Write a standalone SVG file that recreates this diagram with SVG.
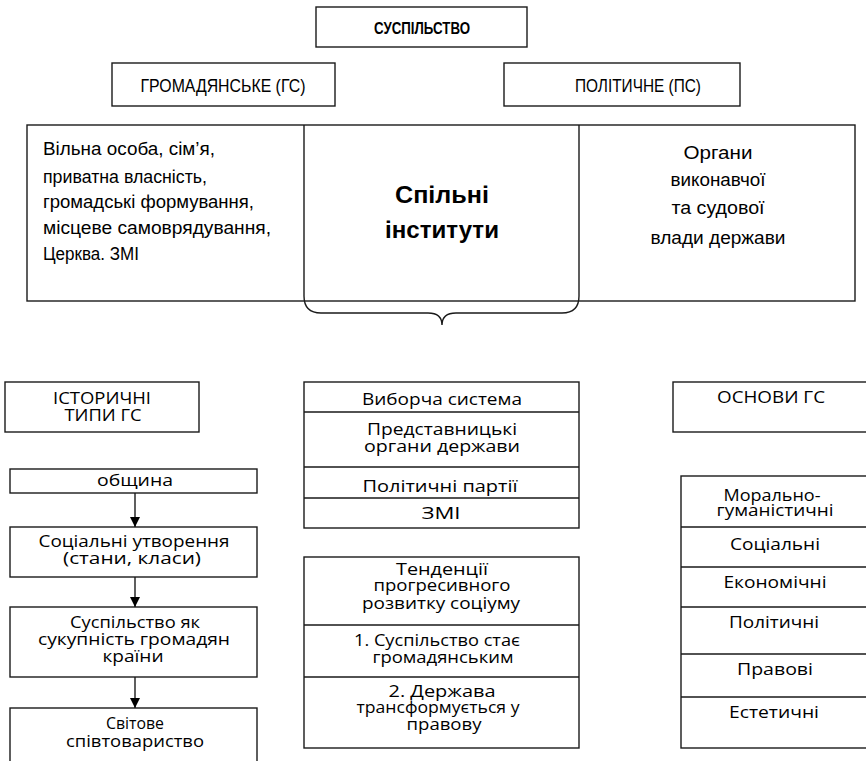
<svg xmlns="http://www.w3.org/2000/svg" width="866" height="761" viewBox="0 0 866 761">
<style>
.box{fill:#fff;stroke:#1a1a1a;stroke-width:1.4}
.ln{fill:none;stroke:#1a1a1a;stroke-width:1.4}
.t{font-family:"Liberation Sans",Arial,sans-serif;font-size:17.5px;fill:#000}
.tb{font-family:"Liberation Sans",Arial,sans-serif;font-weight:bold;fill:#000}
.s{font-family:"Open Sans","DejaVu Sans",sans-serif;font-size:16px;fill:#000;text-anchor:middle}
.c{text-anchor:middle}
</style>
<defs>
<marker id="ah" viewBox="0 0 10 10" refX="10" refY="5" markerWidth="10" markerHeight="10" markerUnits="userSpaceOnUse" orient="auto">
<path d="M0,0 L10,5 L0,10 Z" fill="#000"/>
</marker>
<clipPath id="c1"><rect x="304" y="382" width="276" height="30"/></clipPath>
<clipPath id="c2"><rect x="304" y="467" width="276" height="31"/></clipPath>
</defs>
<rect width="866" height="761" fill="#fff"/>

<g id="suspilstvo">
<rect class="box" x="316" y="7" width="211" height="40"/>
<text class="tb c" x="422" y="34" font-size="17" textLength="96" lengthAdjust="spacingAndGlyphs">СУСПІЛЬСТВО</text>
</g>
<g id="gs">
<rect class="box" x="112" y="63" width="223" height="43"/>
<text class="t c" x="223" y="92" textLength="165" lengthAdjust="spacingAndGlyphs">ГРОМАДЯНСЬКЕ (ГС)</text>
</g>
<g id="ps">
<rect class="box" x="504" y="63" width="236" height="43"/>
<text class="t c" x="638" y="92" textLength="126" lengthAdjust="spacingAndGlyphs">ПОЛІТИЧНЕ (ПС)</text>
</g>

<g id="row">
<rect class="box" x="27" y="125" width="828" height="176"/>
</g>
<g id="gs-items">
<text class="t" x="43" y="155" textLength="172" lengthAdjust="spacingAndGlyphs">Вільна особа, сім’я,</text>
<text class="t" x="43" y="183" textLength="164" lengthAdjust="spacingAndGlyphs">приватна власність,</text>
<text class="t" x="43" y="208" textLength="211" lengthAdjust="spacingAndGlyphs">громадські формування,</text>
<text class="t" x="43" y="234" textLength="228" lengthAdjust="spacingAndGlyphs">місцеве самоврядування,</text>
<text class="t" x="43" y="260" textLength="96" lengthAdjust="spacingAndGlyphs">Церква. ЗМІ</text>
</g>
<g id="spilni">
<path class="ln" d="M304,125 V296 Q304,313 321,313 H428 Q442,313 442,325 Q442,313 456,313 H562 Q579,313 579,296 V125"/>
<text class="tb c" x="442" y="203" font-size="24" textLength="94" lengthAdjust="spacingAndGlyphs">Спільні</text>
<text class="tb c" x="442" y="238" font-size="24" textLength="114" lengthAdjust="spacingAndGlyphs">інститути</text>
</g>
<g id="ps-items">
<text class="t c" x="718" y="159" textLength="69" lengthAdjust="spacingAndGlyphs">Органи</text>
<text class="t c" x="718" y="186" textLength="95" lengthAdjust="spacingAndGlyphs">виконавчої</text>
<text class="t c" x="718" y="214" textLength="93" lengthAdjust="spacingAndGlyphs">та судової</text>
<text class="t c" x="718" y="244" textLength="135" lengthAdjust="spacingAndGlyphs">влади держави</text>
</g>

<g id="istorychni">
<rect class="box" x="5" y="382" width="194" height="50"/>
<text class="s" x="102" y="404" textLength="98" lengthAdjust="spacingAndGlyphs">ІСТОРИЧНІ</text>
<text class="s" x="103" y="421" textLength="77" lengthAdjust="spacingAndGlyphs">ТИПИ ГС</text>
</g>
<g id="obshchyna">
<rect class="box" x="10" y="469" width="247" height="24"/>
<text class="s" x="135" y="486" textLength="76" lengthAdjust="spacingAndGlyphs">община</text>
</g>
<g id="sotsialni-utvorennia">
<rect class="box" x="10" y="527" width="247" height="50"/>
<text class="s" x="134" y="547" textLength="191" lengthAdjust="spacingAndGlyphs">Соціальні утворення</text>
<text class="s" x="132" y="564" textLength="138" lengthAdjust="spacingAndGlyphs">(стани, класи)</text>
</g>
<g id="suspilstvo-yak">
<rect class="box" x="10" y="607" width="247" height="70"/>
<text class="s" x="135" y="628" textLength="130" lengthAdjust="spacingAndGlyphs">Суспільство як</text>
<text class="s" x="134" y="645" textLength="192" lengthAdjust="spacingAndGlyphs">сукупність громадян</text>
<text class="s" x="133" y="662" textLength="61" lengthAdjust="spacingAndGlyphs">країни</text>
</g>
<g id="svitove">
<rect class="box" x="10" y="708" width="247" height="60"/>
<text class="s" x="135" y="729" font-size="17" textLength="58" lengthAdjust="spacingAndGlyphs">Світове</text>
<text class="s" x="135" y="747" font-size="17" textLength="138" lengthAdjust="spacingAndGlyphs">співтовариство</text>
</g>

<g id="institutions">
<rect class="box" x="304" y="382" width="275" height="146"/>
<text class="s" x="442" y="405" clip-path="url(#c1)" textLength="160" lengthAdjust="spacingAndGlyphs">Виборча система</text>
<text class="s" x="442" y="435" textLength="150" lengthAdjust="spacingAndGlyphs">Представницькі</text>
<text class="s" x="442" y="452" textLength="156" lengthAdjust="spacingAndGlyphs">органи держави</text>
<text class="s" x="440" y="492" clip-path="url(#c2)" textLength="155" lengthAdjust="spacingAndGlyphs">Політичні партії</text>
<text class="s" x="441" y="519" textLength="39" lengthAdjust="spacingAndGlyphs">ЗМІ</text>
<path class="ln" d="M304,412 H579 M304,467 H579 M304,498 H579"/>
</g>

<g id="tendentsii">
<rect class="box" x="304" y="557" width="275" height="191"/>
<path class="ln" d="M304,625 H579 M304,677 H579"/>
<text class="s" x="442" y="575" textLength="92" lengthAdjust="spacingAndGlyphs">Тенденції</text>
<text class="s" x="442" y="591" textLength="137" lengthAdjust="spacingAndGlyphs">прогресивного</text>
<text class="s" x="441" y="609" textLength="158" lengthAdjust="spacingAndGlyphs">розвитку соціуму</text>
<text class="s" x="437" y="646" textLength="166" lengthAdjust="spacingAndGlyphs">1. Суспільство стає</text>
<text class="s" x="443" y="663" textLength="141" lengthAdjust="spacingAndGlyphs">громадянським</text>
<text class="s" x="442" y="697" textLength="107" lengthAdjust="spacingAndGlyphs">2. Держава</text>
<text class="s" x="438" y="713" textLength="163" lengthAdjust="spacingAndGlyphs">трансформується у</text>
<text class="s" x="444" y="730" textLength="75" lengthAdjust="spacingAndGlyphs">правову</text>
</g>

<g id="osnovy">
<rect class="box" x="673" y="382" width="200" height="50"/>
<text class="s" x="771" y="403" textLength="108" lengthAdjust="spacingAndGlyphs">ОСНОВИ ГС</text>
</g>
<g id="osnovy-list">
<rect class="box" x="681" y="476" width="192" height="272"/>
<path class="ln" d="M681,527 H866 M681,567 H866 M681,607 H866 M681,654 H866 M681,697 H866"/>
<text class="s" x="772" y="501" textLength="97" lengthAdjust="spacingAndGlyphs">Морально-</text>
<text class="s" x="775" y="516" textLength="117" lengthAdjust="spacingAndGlyphs">гуманістичні</text>
<text class="s" x="775" y="550" textLength="90" lengthAdjust="spacingAndGlyphs">Соціальні</text>
<text class="s" x="775" y="588" textLength="103" lengthAdjust="spacingAndGlyphs">Економічні</text>
<text class="s" x="774" y="628" textLength="90" lengthAdjust="spacingAndGlyphs">Політичні</text>
<text class="s" x="775" y="675" textLength="76" lengthAdjust="spacingAndGlyphs">Правові</text>
<text class="s" x="774" y="718" textLength="90" lengthAdjust="spacingAndGlyphs">Естетичні</text>
</g>

<g id="connectors">
<line class="ln" x1="135" y1="493" x2="135" y2="527" marker-end="url(#ah)"/>
<line class="ln" x1="135" y1="577" x2="135" y2="607" marker-end="url(#ah)"/>
<line class="ln" x1="135" y1="677" x2="135" y2="708" marker-end="url(#ah)"/>
</g>
</svg>
